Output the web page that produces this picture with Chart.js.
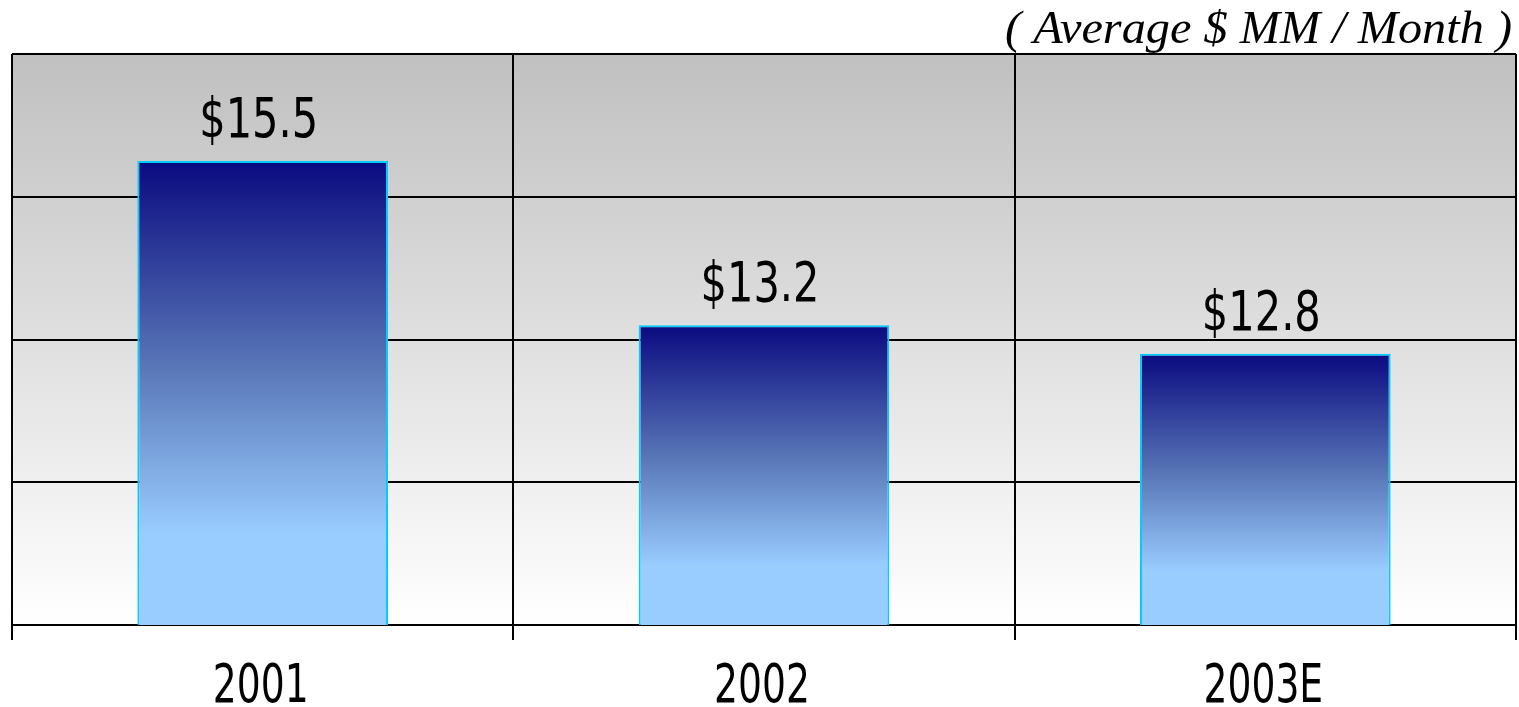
<!DOCTYPE html>
<html>
<head>
<meta charset="utf-8">
<script src="https://cdn.jsdelivr.net/npm/chart.js@4.4.1/dist/chart.umd.min.js"></script>
<style>
  html, body { margin: 0; padding: 0; background: #ffffff; }
  #wrap { width: 1519px; height: 707px; position: relative; }
</style>
</head>
<body>
<div id="wrap"><canvas id="c" width="1519" height="707"></canvas></div>
<script>
const categories = ["2001", "2002", "2003E"];
const values = [15.5, 13.2, 12.8];
const valueLabels = ["$15.5", "$13.2", "$12.8"];
const unitTitle = "( Average $ MM / Month )";
const yMin = 9, yMax = 17, yStep = 2;

const condFont = "'DejaVu Sans Condensed', 'Liberation Sans Narrow', sans-serif";

function drawSquished(ctx, text, x, y, sx) {
  ctx.save();
  ctx.translate(x, y);
  ctx.scale(sx, 1);
  ctx.fillText(text, 0, 0);
  ctx.restore();
}

const bgPlugin = {
  id: 'bgGrad',
  beforeDraw(chart) {
    const {ctx, chartArea: a} = chart;
    if (!a) return;
    const g = ctx.createLinearGradient(0, a.top, 0, a.bottom);
    g.addColorStop(0, '#c0c0c0');
    g.addColorStop(1, '#ffffff');
    ctx.save();
    ctx.fillStyle = g;
    ctx.fillRect(a.left, a.top, a.right - a.left, a.bottom - a.top);
    ctx.restore();
  }
};

const labelPlugin = {
  id: 'valLabels',
  afterDatasetsDraw(chart) {
    const {ctx} = chart;
    const meta = chart.getDatasetMeta(0);
    ctx.save();
    ctx.font = "55px " + condFont;
    ctx.fillStyle = '#000';
    ctx.textAlign = 'center';
    ctx.textBaseline = 'alphabetic';
    meta.data.forEach((el, i) => {
      drawSquished(ctx, valueLabels[i], el.x - 4, el.y - 24, 0.84);
    });
    ctx.restore();
  },
  afterDraw(chart) {
    const {ctx} = chart;
    const xs = chart.scales.x;
    ctx.save();
    ctx.font = "53px " + condFont;
    ctx.fillStyle = '#000';
    ctx.textAlign = 'center';
    ctx.textBaseline = 'alphabetic';
    categories.forEach((c, i) => {
      drawSquished(ctx, c, xs.getPixelForValue(i) - 2, 702, 0.79);
    });
    ctx.font = "italic 46px 'Liberation Serif', 'Times New Roman', serif";
    ctx.textAlign = 'right';
    drawSquished(ctx, unitTitle, 1512, 43, 1.05);
    ctx.restore();
  }
};

function barGradient(context) {
  const chart = context.chart;
  const y = chart.scales && chart.scales.y;
  if (!chart.chartArea || !y) return '#6080c0';
  const v = context.raw;
  const top = y.getPixelForValue(v);
  const bottom = y.getPixelForValue(yMin);
  const g = chart.ctx.createLinearGradient(0, top, 0, bottom);
  g.addColorStop(0, '#0a0a80');
  g.addColorStop(0.45, '#5a78b8');
  g.addColorStop(0.8, '#99ccff');
  g.addColorStop(1, '#99ccff');
  return g;
}

new Chart(document.getElementById('c'), {
  type: 'bar',
  data: {
    labels: categories,
    datasets: [{
      data: values,
      backgroundColor: barGradient,
      borderColor: '#00ccff',
      borderWidth: 2,
      borderSkipped: 'bottom',
      barPercentage: 0.5,
      categoryPercentage: 1.0
    }]
  },
  options: {
    responsive: false,
    animation: false,
    devicePixelRatio: 1,
    layout: { padding: { left: 12, right: 3, top: 54, bottom: 67 } },
    plugins: { legend: { display: false }, tooltip: { enabled: false }, title: { display: false } },
    scales: {
      x: {
        grid: { offset: true, color: '#000', lineWidth: 2, tickLength: 15, tickColor: '#000', tickWidth: 2 },
        border: { display: true, color: '#000', width: 2 },
        ticks: { display: false }
      },
      y: {
        min: yMin, max: yMax,
        ticks: { display: false, stepSize: yStep },
        grid: { color: '#000', lineWidth: 2, drawTicks: false },
        border: { display: false }
      }
    }
  },
  plugins: [bgPlugin, labelPlugin]
});
</script>
</body>
</html>
